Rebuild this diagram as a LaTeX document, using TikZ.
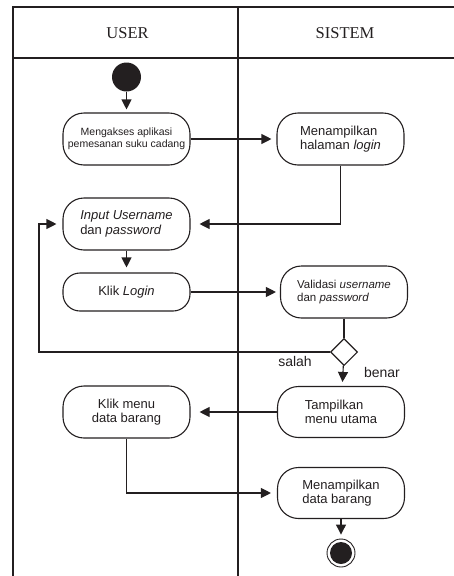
\documentclass[tikz,border=0pt]{standalone}
\usepackage{fontspec}
\setmainfont{Liberation Sans}
\newfontfamily\headfont{Liberation Serif}
\usetikzlibrary{arrows.meta,shapes.geometric}
\definecolor{ink}{RGB}{35,31,32}

\begin{document}
\begin{tikzpicture}[x=1pt,y=-1pt,color=ink,line width=1.1pt,
  act/.style={draw, rounded corners=21pt, minimum width=127pt, minimum height=52pt,
    inner sep=0pt, align=left, font=\fontsize{13}{14.5}\selectfont},
  flow/.style={-{Triangle[length=10pt,width=10pt]}},
  lanehead/.style={font=\headfont\fontsize{16.5}{18}\selectfont},
  lbl/.style={font=\fontsize{14}{16}\selectfont},
]
\useasboundingbox (0,0) rectangle (454,576);

% swimlane frame
\draw (454,7) -- (13,7) -- (13,576);
\draw (13,58) -- (454,58);
\draw (238,7) -- (238,576);
\node[lanehead] (huser) at (127.5,33) {USER};
\node[lanehead] (hsys) at (345,33) {SISTEM};

% start and end
\node[circle, fill, minimum size=29pt, inner sep=0pt] (start) at (126.5,77) {};
\node[circle, draw, line width=0.9pt, minimum size=28pt, inner sep=0pt] (end) at (341,553) {};
\node[circle, fill, minimum size=22pt, inner sep=0pt] (endin) at (341,553) {};

% activities
\node[act, align=center, font=\fontsize{10.5}{12}\selectfont] (n1) at (126.5,139)
  {Mengakses aplikasi\\pemesanan suku cadang};
\node[act] (n2) at (340.5,139) {Menampilkan\\halaman \textit{login}};
\node[act] (n3) at (126.5,224) {\textit{Input Username}\\dan \textit{password}};
\node[act, minimum height=38pt, rounded corners=17pt] (n4) at (126.5,292) {Klik \textit{Login}};
\node[act, font=\fontsize{11.5}{13.5}\selectfont] (n5) at (344,292)
  {Validasi \textit{username}\\dan \textit{password}};
\node[draw, diamond, aspect=1, minimum width=27pt, minimum height=27pt, inner sep=0pt] (dec) at (344,352) {};
\node[act, minimum height=51pt] (n6) at (341,412) {Tampilkan\\menu utama};
\node[act, align=center] (n7) at (126.5,412) {Klik menu\\data barang};
\node[act, minimum height=51pt] (n8) at (341,493) {Menampilkan\\data barang};

\node[lbl] (salah) at (295,361) {salah};
\node[lbl] (benar) at (382,372) {benar};

\coordinate (loop) at (39,352);

% flows
\draw[flow, shorten >=3pt] (start) -- (n1);
\draw[flow, shorten >=5pt] (n1) -- (n2);
\draw[flow, shorten >=9pt] (n2.south) |- (n3);
\draw[flow, shorten >=5pt] (n3) -- (n4);
\draw[flow, shorten >=4pt] (n4) -- (n5);
\draw (n5) -- (dec);
\draw[flow, shorten >=6pt] (dec.west) -- (loop) |- (n3);
\draw[flow, shorten >=4pt] (dec) -- (n6);
\draw[flow, shorten >=9pt] (n6) -- (n7);
\draw[flow, shorten >=6pt] (n7.south) |- (n8);
\draw[flow, shorten >=4pt] (n8) -- (end);
\end{tikzpicture}
\end{document}
